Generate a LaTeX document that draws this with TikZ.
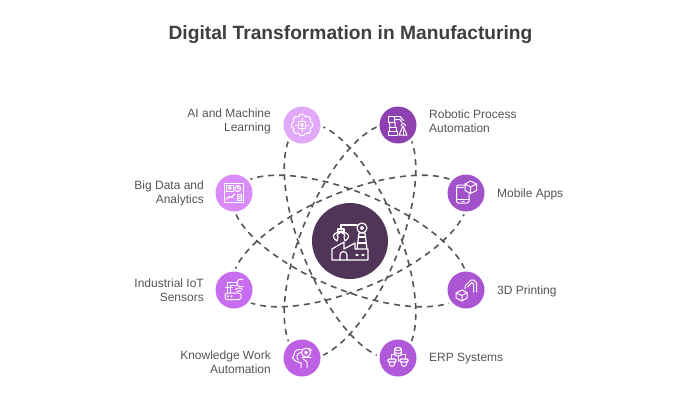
\documentclass[tikz,border=0pt]{standalone}
\usepackage{fontspec}
\setmainfont{Liberation Sans}
\definecolor{ink}{HTML}{555555}
\definecolor{titleink}{HTML}{3F3F3F}
\definecolor{cAI}{HTML}{E2A9FB}
\definecolor{cBD}{HTML}{D98BFB}
\definecolor{cIOT}{HTML}{C96DF0}
\definecolor{cKN}{HTML}{BD60E3}
\definecolor{cERP}{HTML}{AF58D8}
\definecolor{cTD}{HTML}{AC55D2}
\definecolor{cMOB}{HTML}{A152CA}
\definecolor{cRPA}{HTML}{8F40B0}
\definecolor{cCORE}{HTML}{503558}
\tikzset{
  hub/.style={circle,minimum size=37pt,inner sep=0pt,draw=none},
  corehub/.style={circle,minimum size=76pt,inner sep=0pt,draw=none},
  link/.style={draw=ink,line width=1.6pt,dash pattern=on 6pt off 5pt},
  orbit/.style={x radius=125.5,y radius=48.7,rotate=#1},
  lab/.style={text=ink,font=\fontsize{12}{14}\selectfont,inner sep=0pt},
  labr/.style={lab,anchor=east,align=right},
  labl/.style={lab,anchor=west,align=left},
  ico/.style={draw=white,line width=1pt,line join=round,line cap=round,fill=none},
  icoB/.style={draw=white,line width=1.2pt,line join=round,line cap=round,fill=none},
}
\begin{document}
\begin{tikzpicture}[x=1pt,y=1pt]
\useasboundingbox (0,0) rectangle (700,400);
\fill[white] (0,0) rectangle (700,400);
\node[font=\bfseries\fontsize{19.2}{24}\selectfont,text=titleink,inner sep=0pt] (title) at (350.5,365) {Digital Transformation in Manufacturing};
% hubs (named anchors)
\node[hub] (ai) at (302,275) {};
\node[hub] (rpa) at (398,275) {};
\node[hub] (bd) at (234,207) {};
\node[hub] (mob) at (466,207) {};
\node[hub] (iot) at (234,110) {};
\node[hub] (tdp) at (466,110) {};
\node[hub] (know) at (302,42) {};
\node[hub] (erp) at (398,42) {};
\node[corehub] (core) at (350,159) {};
% four dashed orbits, each joining two opposite hubs
\draw[link] (core.center) ellipse[orbit=22.5];
\draw[link] (core.center) ellipse[orbit=67.5];
\draw[link] (core.center) ellipse[orbit=112.5];
\draw[link] (core.center) ellipse[orbit=157.5];
% white halo and discs above the orbits
\fill[cCORE] (core.center) circle (38);
\foreach \c/\n in {cAI/ai,cRPA/rpa,cBD/bd,cMOB/mob,cIOT/iot,cTD/tdp,cKN/know,cERP/erp}
  {\fill[white] (\n.center) circle (21.5); \fill[\c] (\n.center) circle (18.5);}
% labels
\node[labr] (lai) at (271,279) {AI and Machine\\Learning};
\node[labr] (lbd) at (204,206.5) {Big Data and\\Analytics};
\node[labr] (liot) at (204,110) {Industrial IoT\\Sensors};
\node[labr] (lkn) at (271,38) {Knowledge Work\\Automation};
\node[labl] (lrpa) at (429,279) {Robotic Process\\Automation};
\node[labl] (lmob) at (497,206) {Mobile Apps};
\node[labl] (ltd) at (497,109) {3D Printing};
\node[labl] (lerp) at (429,41) {ERP Systems};
% AI icon
\begin{scope}[shift={(302,275)},ico]
  \draw (-3.5,-3.5) rectangle (3.5,3.5);
  \draw (0,0) circle (1.4);
  \foreach \a in {0,45,...,315}{\draw[rotate=\a] (-3.6,8.3) arc (160:20:3.8);}
  \draw (-3.5,0)--(-7,0) (3.5,0)--(7,0) (0,3.5)--(0,7) (0,-3.5)--(0,-7);
\end{scope}
% Big data icon
\begin{scope}[shift={(234,207)},ico]
  \draw[icoB] (-9.5,-9.5) rectangle (9.5,9.5);
  \draw (-7.5,1.5) rectangle (-1,7.5);
  \draw (-4.2,5) circle (1.5);
  \draw (3.7,4.5) circle (3);
  \draw (3.7,4.5)--(3.7,7.5) (3.7,4.5)--(6.7,4.5);
  \draw (3,-7.5) rectangle (7.5,-1);
  \draw (4.2,-3)--(6.3,-3) (4.2,-5)--(6.3,-5);
  \draw[icoB] (-7.5,-6)--(-4.5,-3.5)--(-2.5,-4.5)--(0.8,-1);
\end{scope}
% IoT icon
\begin{scope}[shift={(234,110)},ico]
  \draw[rounded corners=1.5pt] (-9,-9.5) rectangle (7,-3);
  \draw (-6,-6.3) circle (.6) (-2.5,-6.3) circle (.6);
  \draw (-6.5,-3)--(-6.5,8)--(3,8) (-3.5,-3)--(-3.5,5)--(3,5);
  \draw (-8.5,2.5)--(-1.5,2.5);
  \draw (9,3.5) arc (-60:-300:4 and 4);
  \draw (3,-1.5) arc (140:40:2.5) (1.5,.5) arc (140:40:4.5);
\end{scope}
% Knowledge work icon
\begin{scope}[shift={(302,42)},ico]
  \draw (-1,-9.5)--(-1,-5) .. controls (-4,-4) and (-8.5,-3) .. (-8,-1) -- (-9.5,0) -- (-8,3) .. controls (-8,7) and (-5,9) .. (-1,8.5);
  \draw (-4,-2) .. controls (-6,1) and (-5,5) .. (-1,5.5);
  \draw (5,-9.5)--(5,-4) .. controls (3,-2) and (2,-1) .. (1,-1);
  \draw (4,5.5) circle (4.5);
  \draw (4,5.5) circle (1.4);
  \draw (0,1)--(9,1);
  \draw (7,10)--(9.5,7.5);
\end{scope}
% ERP icon
\begin{scope}[shift={(398,42)},ico]
  \draw (0,9) ellipse (3.3 and 1.5);
  \draw (-3.3,9)--(-3.3,3.5) arc (180:360:3.3 and 1.5)--(3.3,9);
  \draw (-3.3,6) arc (180:360:3.3 and 1.5);
  \draw (-3.3,4)--(-7,4)--(-7,-1) (3.3,4)--(7,4)--(7,-1) (0,2)--(0,-3);
  \draw[icoB,rounded corners=1pt] (-10,-1) rectangle (-2,-4);
  \draw[icoB,rounded corners=1pt] (2,-1) rectangle (10,-4);
  \draw (-9,-4) .. controls (-9,-10) and (-3,-10) .. (-3,-4);
  \draw (3,-4) .. controls (3,-10) and (9,-10) .. (9,-4);
\end{scope}
% 3D printing icon
\begin{scope}[shift={(466,110)},ico]
  \draw (-10,-3)--(-4,0)--(1,-2.5)--(1,-8)--(-4,-11)--(-10,-8)--cycle;
  \draw (-10,-3)--(-4,-5.5)--(1,-2.5) (-4,-5.5)--(-4,-11);
  \draw (-1,1)--(-1,4)--(5,10)--(8,10)--(10.5,7)--(10.5,-2);
  \draw (1.5,3)--(6,7.5)--(7.5,5.5)--(7.5,-2);
\end{scope}
% Mobile icon
\begin{scope}[shift={(466,207)},ico]
  \draw[rounded corners=1.5pt] (-1,8)--(-9.5,8)--(-9.5,-10)--(3,-10)--(3,-1);
  \draw (-9.5,-6.5)--(3,-6.5) (-9.5,5.5)--(-2,5.5);
  \draw (-4,-8.3)--(-2,-8.3);
  \draw (4.5,12)--(10.5,9)--(10.5,2.5)--(4.5,-.5)--(-1,2.5)--(-1,9)--cycle;
  \draw (-1,9)--(4.5,6)--(10.5,9) (4.5,6)--(4.5,-.5);
\end{scope}
% RPA icon
\begin{scope}[shift={(398,275)},ico]
  \draw (-9.5,-10) rectangle (-1,-6.5);
  \draw (-8.5,-6.5)--(-8.5,-2)--(-2,-2)--(-2,-6.5);
  \draw (-8,-2)--(-8.5,3) (-3,-2)--(-3,3);
  \draw (-9.5,3) rectangle (-3.5,8.5);
  \draw (-5,8.5)--(2,8.5)--(6,4) (-3.5,5.5)--(2,5.5)--(4,2.5);
  \draw (3,-1) arc (180:0:2.2 and 2.5);
  \draw (5,-1)--(1,-10)--(9,-10)--cycle;
  \draw (5.2,-5)--(5.2,-10);
\end{scope}
% core icon
\begin{scope}[shift={(350,159)},ico,line width=1.2pt]
  \draw (-18,-19)--(-18,-8)--(-6,-1)--(-6,-8)--(5,-2)--(5,-8)--(18,-8)--(18,-19)--cycle;
  \draw (-10,-19)--(-10,-14) arc (180:0:3.5)--(-3,-19);
  \draw (6,-14)--(8,-14) (12,-14)--(14,-14);
  \draw (7,-8)--(9,8)--(15,8)--(17,-8);
  \draw (8.5,4)--(15.5,4) (8,-2)--(16,-2);
  \draw (12,13) circle (5);
  \draw (12,13) circle (1.6);
  \draw (7,16)--(-9,16)--(-9,11);
  \draw (-12,9) rectangle (-6,12);
  \draw (-12,9) .. controls (-18,7) and (-18,3) .. (-13,0) -- (-12,4) .. controls (-14,5) and (-13,7) .. (-10,8);
  \draw (-6,9) .. controls (0,7) and (0,3) .. (-5,0) -- (-6,4) .. controls (-4,5) and (-5,7) .. (-8,8);
\end{scope}
\end{tikzpicture}
\end{document}
